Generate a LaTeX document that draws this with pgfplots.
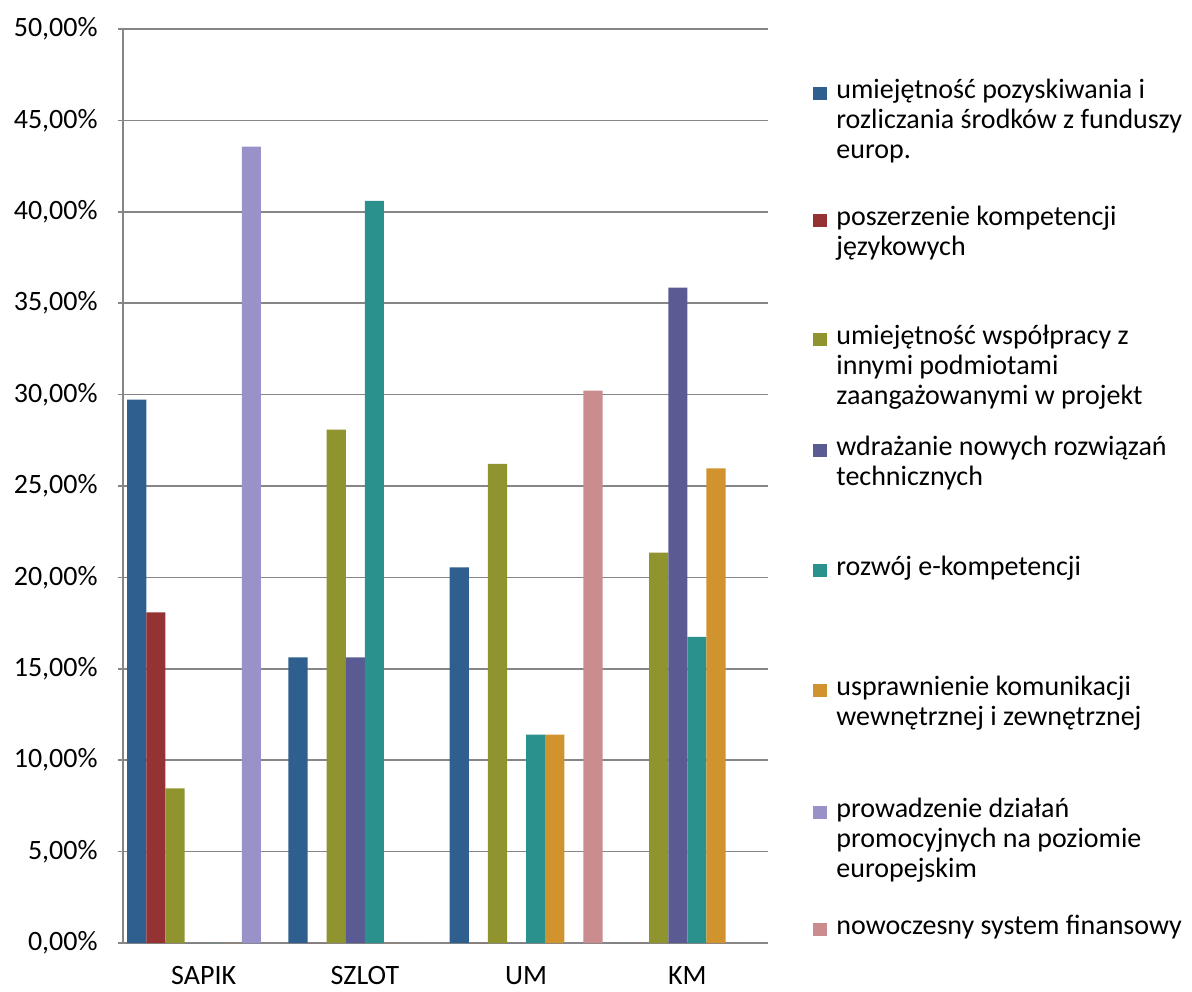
\documentclass[border=0pt]{standalone}
\usepackage{fontspec}
\setmainfont{Carlito}
\usepackage{pgfplots}
\pgfplotsset{compat=1.18}
\definecolor{c1}{RGB}{46,95,142}
\definecolor{c2}{RGB}{149,50,51}
\definecolor{c3}{RGB}{143,148,47}
\definecolor{c4}{RGB}{91,91,148}
\definecolor{c5}{RGB}{42,145,141}
\definecolor{c6}{RGB}{209,147,46}
\definecolor{c7}{RGB}{152,146,201}
\definecolor{c8}{RGB}{203,140,143}
\definecolor{gridc}{RGB}{134,134,134}
\newcommand{\LE}[2]{\parbox[t][#1][t]{178pt}{\fontsize{14}{15}\selectfont\rule{0pt}{12pt}#2}}
\pgfplotsset{mybar/.style={ybar, bar width=0.1185, draw=none,
  legend image code/.code={\fill[##1,draw=none] (0pt,-1pt) rectangle (7pt,5.5pt); \path (11.5pt,0pt);}}}
\begin{document}
\begin{tikzpicture}
\useasboundingbox (0,0) rectangle (596pt,495.5pt);
\begin{axis}[
  at={(61.5pt,24pt)}, anchor=south west,
  scale only axis, width=322.5pt, height=457pt,
  xmin=-0.5, xmax=3.5, ymin=0, ymax=50,
  xtick={0,1,2,3}, xticklabels={SAPIK,SZLOT,UM,KM},
  ytick={0,5,...,50},
  yticklabel={\pgfmathprintnumber[fixed,fixed zerofill,precision=2,use comma]{\tick}\%},
  /pgf/number format/assume math mode=true,
  tick label style={font=\fontsize{14}{15}\selectfont, black},
  yticklabel style={inner sep=0pt, xshift=-10pt},
  xticklabel style={inner sep=0pt, yshift=-9pt},
  axis lines=left, axis line style={-, draw=gridc, line width=0.8pt},
  x tick style={draw=none},
  y tick style={draw=gridc, line width=0.8pt},
  tick align=outside, major tick length=2.5pt,
  ymajorgrids, major grid style={draw=gridc, line width=0.8pt},
  clip=false,
  legend style={at={(1.06977,0.9508)}, anchor=north west, draw=none, fill=none,
    inner sep=0pt, row sep=0pt, column sep=0pt,
    cells={anchor=base west}, nodes={inner sep=0pt, text depth=}},
]
\addplot[mybar, fill=c1, bar shift=-0.41475] coordinates {(0,29.73) (1,15.63) (2,20.55) (3,0)};
\addlegendentry{\LE{63.5pt}{umiejętność pozyskiwania i\\rozliczania środków z funduszy\\europ.}}
\addplot[mybar, fill=c2, bar shift=-0.29625] coordinates {(0,18.09) (1,0) (2,0) (3,0)};
\addlegendentry{\LE{59.5pt}{poszerzenie kompetencji\\językowych}}
\addplot[mybar, fill=c3, bar shift=-0.17775] coordinates {(0,8.46) (1,28.09) (2,26.21) (3,21.36)};
\addlegendentry{\LE{55.5pt}{umiejętność współpracy z\\innymi podmiotami\\zaangażowanymi w projekt}}
\addplot[mybar, fill=c4, bar shift=-0.05925] coordinates {(0,0) (1,15.63) (2,0) (3,35.85)};
\addlegendentry{\LE{60pt}{wdrażanie nowych rozwiązań\\technicznych}}
\addplot[mybar, fill=c5, bar shift=0.05925] coordinates {(0,0) (1,40.60) (2,11.40) (3,16.74)};
\addlegendentry{\LE{60pt}{rozwój e-kompetencji}}
\addplot[mybar, fill=c6, bar shift=0.17775] coordinates {(0,0) (1,0) (2,11.40) (3,25.97)};
\addlegendentry{\LE{61pt}{usprawnienie komunikacji\\wewnętrznej i zewnętrznej}}
\addplot[mybar, fill=c7, bar shift=0.29625] coordinates {(0,43.57) (1,0) (2,0) (3,0)};
\addlegendentry{\LE{58.5pt}{prowadzenie działań\\promocyjnych na poziomie\\europejskim}}
\addplot[mybar, fill=c8, bar shift=0.41475] coordinates {(0,0) (1,0) (2,30.22) (3,0)};
\addlegendentry{\LE{14pt}{nowoczesny system finansowy}}
\end{axis}
\end{tikzpicture}
\end{document}
